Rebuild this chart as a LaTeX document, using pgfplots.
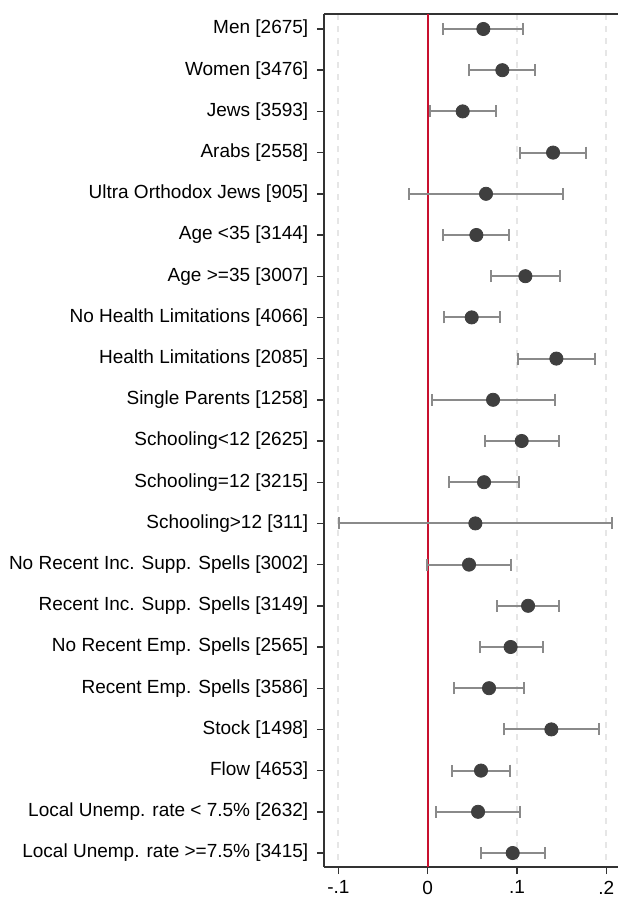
\documentclass[border=0pt]{standalone}
\usepackage{fontspec}
\setmainfont{Liberation Sans}
\usepackage{pgfplots}
\usepackage{pgfplotstable}
\pgfplotsset{compat=1.18}
\definecolor{dotc}{HTML}{3F3F3F}
\definecolor{barc}{HTML}{8A8A8A}
\definecolor{zeroc}{HTML}{C8102E}
\definecolor{gridc}{HTML}{E6E6E6}
\definecolor{axc}{HTML}{333333}
\pgfplotstableread{
r b lo hi
1 0.0623 0.0175 0.1071
2 0.0836 0.0463 0.1206
3 0.0392 0.0022 0.0765
4 0.1404 0.1034 0.1773
5 0.0653 -0.0205 0.1519
6 0.0545 0.0175 0.0915
7 0.1094 0.0705 0.1486
8 0.0493 0.0183 0.0806
9 0.1441 0.1015 0.1878
10 0.0732 0.0045 0.1422
11 0.1053 0.0638 0.1467
12 0.0631 0.0239 0.1027
13 0.0534 -0.0993 0.2064
14 0.0463 -0.0004 0.0937
15 0.1124 0.0773 0.1474
16 0.0929 0.0586 0.1288
17 0.0687 0.0295 0.1075
18 0.1385 0.0859 0.1915
19 0.0597 0.0276 0.0922
20 0.0564 0.0093 0.1038
21 0.0952 0.0601 0.1310
}\coefs
\begin{document}
\fontsize{9.5}{11}\selectfont
\begin{tikzpicture}
\begin{axis}[
  at={(0,0)}, anchor=south west,
  scale only axis, width=147pt, height=426.5pt,
  xmin=-0.1161, xmax=0.2131, ymin=0.636, ymax=21.34, y dir=reverse,
  axis x line=box, axis y line*=left,
  axis line style={axc, line width=0.85pt},
  xtick={-0.1,0,0.1,0.2}, xticklabels={-.1,0,.1,.2},
  xtick pos=left,
  ytick={1,...,21},
  yticklabels={{Men [2675]},{Women [3476]},{Jews [3593]},{Arabs [2558]},{Ultra Orthodox Jews [905]},{Age <35 [3144]},{Age >=35 [3007]},{No Health Limitations [4066]},{Health Limitations [2085]},{Single Parents [1258]},{Schooling<12 [2625]},{Schooling=12 [3215]},{Schooling>12 [311]},{No Recent Inc. Supp. Spells [3002]},{Recent Inc. Supp. Spells [3149]},{No Recent Emp. Spells [2565]},{Recent Emp. Spells [3586]},{Stock [1498]},{Flow [4653]},{Local Unemp. rate < 7.5\% [2632]},{Local Unemp. rate >=7.5\% [3415]}},
  tick align=outside,
  major tick length=3.5pt,
  tick style={axc, line width=0.7pt},
  ticklabel style={font=\fontsize{9.5}{11}\selectfont, black},
  yticklabel style={xshift=-1pt},
  xmajorgrids, grid style={gridc, dashed, line width=1pt},
  clip=false,
]
\addplot[zeroc, line width=1pt] coordinates {(0,0.636) (0,21.34)};
\addplot[only marks, mark=*, mark size=3.3pt, mark options={dotc, fill=dotc},
  error bars/.cd, x dir=both, x explicit,
  error bar style={barc, line width=1pt},
  error mark options={barc, line width=1pt, mark size=3pt, rotate=90}]
  table[x=b, y=r, x error plus expr=\thisrow{hi}-\thisrow{b}, x error minus expr=\thisrow{b}-\thisrow{lo}]{\coefs};
\end{axis}
\pgfresetboundingbox
\path (-162pt,-16pt) rectangle (147pt,433.5pt);
\end{tikzpicture}
\end{document}
